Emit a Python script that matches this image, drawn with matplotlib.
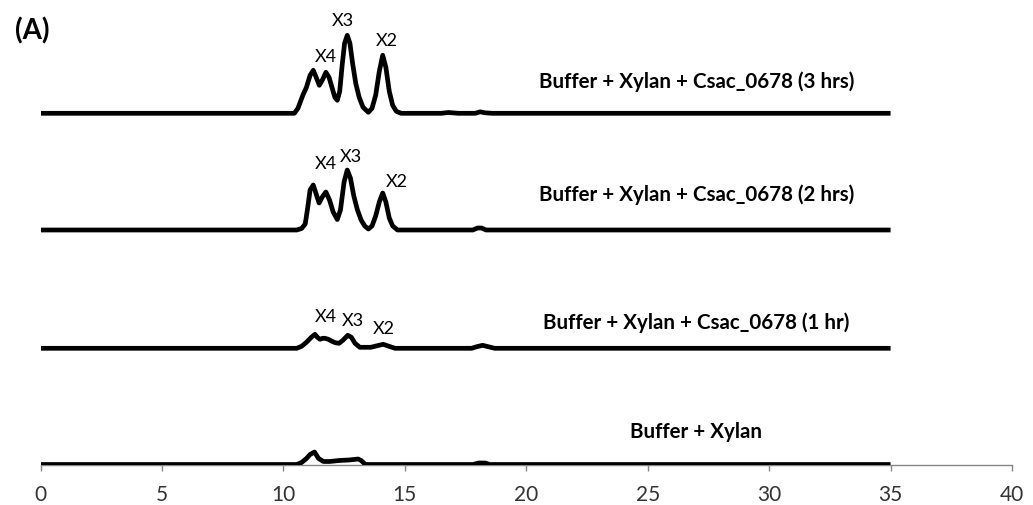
import matplotlib
matplotlib.use("Agg")
import matplotlib.pyplot as plt

plt.rcParams["font.family"] = ["Lato", "DejaVu Sans"]

# Retention time (min) vs detector signal (one list per trace)
t_3h = [0, 10.45, 10.6, 10.8, 10.95, 11.1, 11.23, 11.35, 11.48, 11.62, 11.75, 11.88, 12.0, 12.12,
        12.22, 12.32, 12.42, 12.52, 12.63, 12.74, 12.85, 12.98, 13.12, 13.28, 13.5, 13.65, 13.8,
        13.95, 14.09, 14.22, 14.36, 14.5, 14.65, 14.85, 16.5, 16.8, 17.2, 17.9, 18.1, 18.3, 18.6, 35]
s_3h = [0, 0, 5, 18, 26, 38, 43, 36, 28, 34, 41, 36, 26, 16,
        13, 22, 48, 70, 78, 70, 50, 30, 16, 6, 1, 5, 18,
        42, 58, 46, 22, 8, 2, 0, 0, 0.8, 0, 0, 1.5, 0.5, 0, 0]

t_2h = [0, 10.55, 10.75, 10.9, 11.0, 11.1, 11.23, 11.35, 11.47, 11.6, 11.75, 11.9, 12.05, 12.22,
        12.35, 12.5, 12.63, 12.76, 12.9, 13.05, 13.2, 13.35, 13.5, 13.65, 13.8, 13.95, 14.09, 14.22,
        14.36, 14.5, 14.7, 17.8, 18.0, 18.15, 18.35, 35]
s_2h = [0, 0, 1.5, 6, 22, 40, 45, 36, 27, 33, 38, 30, 18, 10.5,
        20, 48, 60, 52, 34, 20, 10, 4, 1, 4, 14, 28, 37, 28,
        12, 4, 0, 0, 2, 2, 0, 0]

t_1h = [0, 10.55, 10.75, 10.95, 11.15, 11.3, 11.4, 11.51, 11.62, 11.71, 11.85, 12.0, 12.15, 12.29,
        12.45, 12.65, 12.8, 12.95, 13.15, 13.6, 13.85, 14.11, 14.35, 14.6, 17.75, 17.95, 18.2, 18.45,
        18.7, 35]
s_1h = [0, 0, 2, 6, 11, 14, 11, 9, 10, 10, 9, 7, 5.5, 5,
        8, 13, 11, 5, 1, 1, 2.5, 4, 2, 0, 0, 1.5, 3, 1.5,
        0, 0]

t_buf = [0, 10.55, 10.75, 10.95, 11.1, 11.28, 11.45, 11.65, 11.9, 12.3, 12.7, 13.08, 13.2, 13.38,
         17.8, 18.05, 18.3, 18.5, 35]
s_buf = [0, 0, 2, 6, 10, 12.5, 6, 3, 3, 4, 4.5, 5.5, 4, 0,
         0, 1.5, 1.5, 0, 0]

trace_labels = ["Buffer + Xylan + Csac_0678 (3 hrs)",
                "Buffer + Xylan + Csac_0678 (2 hrs)",
                "Buffer + Xylan + Csac_0678 (1 hr)",
                "Buffer + Xylan"]
peak_names = ["X4", "X3", "X2"]
xticks = [0, 5, 10, 15, 20, 25, 30, 35, 40]

traces = [(t_3h, s_3h), (t_2h, s_2h), (t_1h, s_1h), (t_buf, s_buf)]
# vertical stacking of the traces and text positions (layout only)
offsets = [351.7, 235, 116.7, 0.5]
label_pos = [(27.0, 383), (27.0, 270), (27.0, 142), (27.0, 33)]
peak_label_pos = [
    [(11.75, 408), (12.43, 444), (14.27, 424)],
    [(11.73, 301), (12.76, 307.5), (14.68, 283)],
    [(11.73, 148), (12.87, 144.5), (14.12, 136.5)],
]

fig = plt.figure(figsize=(10.33, 5.05), dpi=100, facecolor="white")
ax = fig.add_axes([40.5 / 1033, 40 / 505, 971.5 / 1033, 465 / 505])

for (t, s), off in zip(traces, offsets):
    ax.plot(t, [v + off for v in s], color="black", lw=3.4,
            solid_joinstyle="round", solid_capstyle="butt", zorder=3)

for (x, y), lab in zip(label_pos, trace_labels):
    ax.text(x, y, lab, ha="center", va="center", fontsize=14.8, fontweight="bold")

for positions in peak_label_pos:
    for (x, y), name in zip(positions, peak_names):
        ax.text(x, y, name, ha="center", va="center", fontsize=13)

ax.set_xlim(0, 40)
ax.set_ylim(0, 465)
ax.set_xticks(xticks)
ax.set_yticks([])
for side in ["left", "top", "right"]:
    ax.spines[side].set_visible(False)
ax.spines["bottom"].set_color("#868686")
ax.spines["bottom"].set_linewidth(1.0)
ax.tick_params(axis="x", direction="out", length=4.5, width=1.0, color="#868686",
               labelcolor="#333333", labelsize=15, pad=10)
ax.patch.set_alpha(0)

fig.text(32.5 / 1033, 1 - 31 / 505, "(A)", ha="center", va="center",
         fontsize=20, fontweight="bold")

fig.savefig("out.png", dpi=100, facecolor="white")
